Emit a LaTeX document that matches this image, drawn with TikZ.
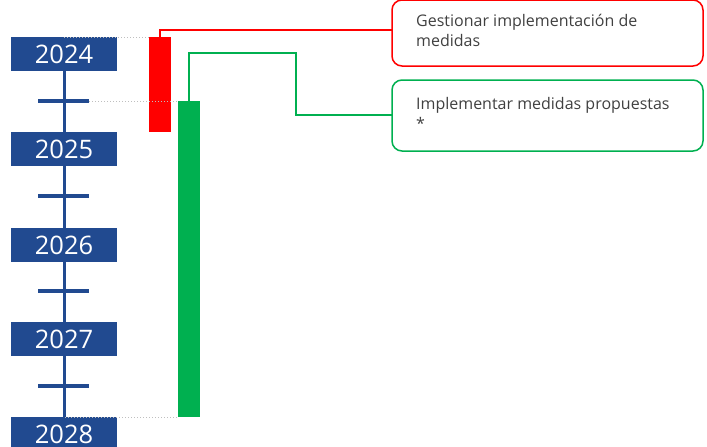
\documentclass[tikz,border=0pt]{standalone}
\usepackage{fontspec}
\setmainfont{Open Sans}
\definecolor{yblue}{HTML}{214A90}
\definecolor{bred}{HTML}{FF0000}
\definecolor{bgreen}{HTML}{00B050}
\definecolor{tgray}{HTML}{404040}
\definecolor{dgray}{HTML}{BFBFBF}
\begin{document}
\begin{tikzpicture}[x=1pt,y=-1pt,
  yearbox/.style={fill=yblue,text=white,minimum width=106pt,minimum height=34pt,inner sep=0pt,font=\fontsize{25.5}{25.5}\selectfont},
  bar/.style={minimum width=22pt,inner sep=0pt,outer sep=0pt},
  taskbox/.style={draw,rounded corners=10pt,line width=1.5pt,minimum width=311pt,inner sep=0pt,outer sep=0pt},
  tasktext/.style={anchor=base west,text=tgray,font=\fontsize{16}{20}\selectfont,inner sep=0pt},
  tick/.style={draw=yblue,line width=4pt},
  guide/.style={draw=dgray,dotted,line width=1pt}]
\useasboundingbox (0,0) rectangle (707,447);
% axis
\coordinate (axtop) at (64,71);
\coordinate (axbot) at (64,417);
\draw[yblue,line width=3pt] (axtop) -- (axbot);
\foreach \y/\n in {101/t1,196/t2,291/t3,386/t4}{
  \coordinate (\n a) at (38,\y); \coordinate (\n b) at (89,\y);
  \draw[tick] (\n a) -- (\n b);
}
\node[yearbox] (y2024) at (64,54) {2024};
\node[yearbox] (y2025) at (64,149) {2025};
\node[yearbox] (y2026) at (64,245) {2026};
\node[yearbox] (y2027) at (64,339) {2027};
\node[yearbox] (y2028) at (64,434) {2028};
% bars
\node[bar,fill=bred,minimum height=95pt,anchor=north] (red) at (160,37) {};
\node[bar,fill=bgreen,minimum height=316pt,anchor=north] (green) at (189,101) {};
% guides
\coordinate (g1) at (64,37);
\coordinate (g3) at (65,417);
\draw[guide] (g1) -- (red.north west);
\draw[guide] (t1b) -- (green.north west);
\draw[guide] (g3) -- (green.south west);
% task boxes
\node[taskbox,draw=bred,minimum height=66pt,anchor=north west] (task1) at (392,0) {};
\node[tasktext] (task1a) at (416,26) {Gestionar implementación de};
\node[tasktext] (task1b) at (416,46) {medidas};
\node[taskbox,draw=bgreen,minimum height=71pt,anchor=north west] (task2) at (392,80) {};
\node[tasktext] (task2a) at (416,109) {Implementar medidas propuestas};
\node[tasktext] (task2b) at (416,129) {*};
% connectors
\coordinate (rc) at (160,30);
\draw[bred,line width=1.2pt] (red.north) -- (rc) -- (task1.west |- rc);
\coordinate (gc1) at (189,53);
\coordinate (gc2) at (296,53);
\coordinate (gc3) at (296,115);
\draw[bgreen,line width=1.2pt] (green.north) -- (gc1) -- (gc2) -- (gc3) -- (task2.west |- gc3);
\end{tikzpicture}
\end{document}
